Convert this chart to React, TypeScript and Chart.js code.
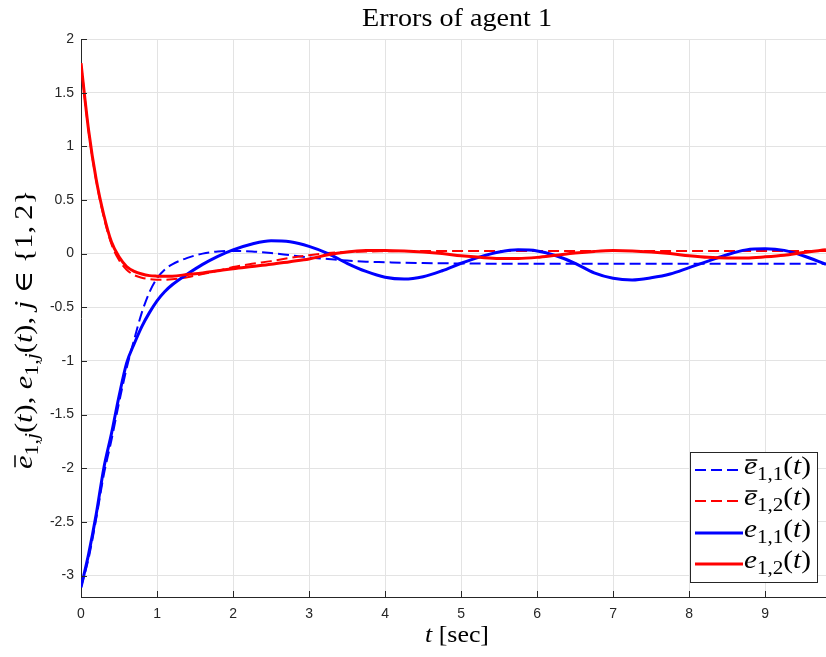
import React, { useEffect, useRef } from "react";
import { Chart, registerables } from "chart.js";
Chart.register(...registerables);

const times = [0, 0.1, 0.2, 0.3, 0.4, 0.5, 0.6, 0.7, 0.8, 0.9, 1.0, 1.1, 1.2, 1.4, 1.6, 1.8, 2.0, 2.25, 2.5, 2.75, 3.0, 3.25, 3.5, 3.75, 4.0, 4.25, 4.5, 4.75, 5.0, 5.25, 5.5, 5.75, 6.0, 6.25, 6.5, 6.75, 7.0, 7.25, 7.5, 7.75, 8.0, 8.25, 8.5, 8.75, 9.0, 9.25, 9.5, 9.8];

const eBar11 = [-3.11, -2.84, -2.47, -2.06, -1.74, -1.39, -1.07, -0.8, -0.55, -0.36, -0.23, -0.15, -0.1, -0.04, 0.0, 0.02, 0.025, 0.02, 0.005, -0.015, -0.035, -0.05, -0.065, -0.075, -0.08, -0.085, -0.088, -0.09, -0.092, -0.093, -0.094, -0.094, -0.095, -0.095, -0.095, -0.095, -0.095, -0.095, -0.095, -0.095, -0.095, -0.095, -0.095, -0.095, -0.095, -0.095, -0.095, -0.095];
const eBar12 = [1.775, 1.14, 0.68, 0.34, 0.09, -0.06, -0.15, -0.2, -0.225, -0.238, -0.243, -0.244, -0.24, -0.22, -0.19, -0.16, -0.125, -0.095, -0.07, -0.04, -0.015, 0.005, 0.015, 0.02, 0.022, 0.024, 0.025, 0.025, 0.025, 0.025, 0.025, 0.025, 0.025, 0.025, 0.025, 0.025, 0.025, 0.025, 0.025, 0.025, 0.025, 0.025, 0.025, 0.025, 0.025, 0.025, 0.025, 0.025];
const e11 = [-3.11, -2.8, -2.43, -2.0, -1.68, -1.33, -1.02, -0.84, -0.68, -0.55, -0.44, -0.355, -0.29, -0.19, -0.1, -0.025, 0.035, 0.09, 0.12, 0.11, 0.067, 0.0, -0.09, -0.166, -0.22, -0.237, -0.215, -0.16, -0.09, -0.03, 0.015, 0.035, 0.025, -0.02, -0.09, -0.18, -0.23, -0.245, -0.225, -0.19, -0.13, -0.07, -0.01, 0.035, 0.045, 0.03, -0.02, -0.1];
const e12 = [1.775, 1.15, 0.69, 0.36, 0.11, -0.03, -0.12, -0.165, -0.19, -0.205, -0.21, -0.212, -0.21, -0.195, -0.18, -0.16, -0.14, -0.12, -0.1, -0.075, -0.05, -0.01, 0.015, 0.028, 0.03, 0.025, 0.015, 0.0, -0.02, -0.035, -0.045, -0.045, -0.035, -0.015, 0.005, 0.02, 0.028, 0.025, 0.015, 0.0, -0.02, -0.035, -0.04, -0.04, -0.03, -0.015, 0.01, 0.035];

const xTicks = [0, 1, 2, 3, 4, 5, 6, 7, 8, 9];
const yTicks = [2, 1.5, 1, 0.5, 0, -0.5, -1, -1.5, -2, -2.5, -3];
const titleText = "Errors of agent 1";
const xLabelVar = "t";
const xLabelUnit = " [sec]";
const legendSubs = ["1,1", "1,2", "1,1", "1,2"];

const SERIF = '"Liberation Serif", "DejaVu Serif", serif';
const SANS = '"Liberation Sans", Arial, sans-serif';
const AXIS = "#262626";

type Run = { text: string; italic?: boolean; sub?: boolean; bar?: boolean };

function runFont(r: Run, size: number) {
  const s = r.sub ? Math.round(size * 0.7) : size;
  return `${r.italic ? "italic " : ""}${s}px ${SERIF}`;
}
function measureRuns(ctx: CanvasRenderingContext2D, runs: Run[], size: number) {
  let w = 0;
  for (const r of runs) {
    ctx.font = runFont(r, size);
    w += ctx.measureText(r.text).width;
  }
  return w;
}
// draws runs starting at x (left), horizontally stretched to targetWidth
function drawRuns(ctx: CanvasRenderingContext2D, runs: Run[], x: number, y: number, size: number, targetWidth: number, barRise: number) {
  const natural = measureRuns(ctx, runs, size);
  const sx = targetWidth / natural;
  ctx.save();
  ctx.translate(x, y);
  ctx.scale(sx, 1);
  ctx.textAlign = "left";
  ctx.textBaseline = "alphabetic";
  let cx = 0;
  for (const r of runs) {
    ctx.font = runFont(r, size);
    const w = ctx.measureText(r.text).width;
    const dy = r.sub ? size * 0.22 : 0;
    ctx.fillText(r.text, cx, dy);
    if (r.bar) {
      ctx.save();
      ctx.lineWidth = Math.max(1.2, size * 0.06);
      ctx.beginPath();
      ctx.moveTo(cx + size * 0.06, -barRise);
      ctx.lineTo(cx + w + size * 0.01, -barRise);
      ctx.stroke();
      ctx.restore();
    }
    cx += w;
  }
  ctx.restore();
}
function mathLabel(bar: boolean, sub: string): Run[] {
  const [a, b] = sub.split(",");
  return [
    { text: "e", italic: true, bar },
    { text: a + ",", sub: true },
    { text: b, sub: true, italic: b === "j" },
    { text: "(" },
    { text: "t", italic: true },
    { text: ")" },
  ];
}

const decorPlugin = {
  id: "decor",
  afterDraw(chart: any) {
    const ctx: CanvasRenderingContext2D = chart.ctx;
    const area = chart.chartArea;
    const xs = chart.scales.x;
    const ys = chart.scales.y;
    ctx.save();
    // inward ticks
    ctx.strokeStyle = AXIS;
    ctx.lineWidth = 1;
    for (const v of xTicks) {
      const px = Math.round(xs.getPixelForValue(v)) + 0.5;
      ctx.beginPath();
      ctx.moveTo(px, area.bottom);
      ctx.lineTo(px, area.bottom - 6);
      ctx.stroke();
    }
    for (const v of yTicks) {
      const py = Math.round(ys.getPixelForValue(v)) + 0.5;
      ctx.beginPath();
      ctx.moveTo(area.left, py);
      ctx.lineTo(area.left + 6, py);
      ctx.stroke();
    }
    ctx.fillStyle = "#000";
    ctx.strokeStyle = "#000";
    // title
    drawRuns(ctx, [{ text: titleText }], 457 - 95, 26, 25, 190, 0);
    // x label
    drawRuns(ctx, [{ text: xLabelVar, italic: true }, { text: xLabelUnit }], 457 - 32, 642, 24, 64, 0);
    // y label
    const yr: Run[] = [
      ...mathLabel(true, "1,j"),
      { text: ", " },
      ...mathLabel(false, "1,j"),
      { text: ", " },
      { text: "j", italic: true },
      { text: " ∈ {1,\u20092}" },
    ];
    ctx.save();
    ctx.translate(32, 330);
    ctx.rotate(-Math.PI / 2);
    drawRuns(ctx, yr, -139, 0, 25, 279, 17);
    ctx.restore();
    // legend
    const bx = 690.5, by = 452.5, bw = 127, bh = 130;
    ctx.fillStyle = "#fff";
    ctx.fillRect(bx, by, bw, bh);
    ctx.strokeStyle = AXIS;
    ctx.lineWidth = 1;
    ctx.strokeRect(bx, by, bw, bh);
    const rows = [470, 501, 533, 564];
    chart.data.datasets.forEach((ds: any, i: number) => {
      ctx.save();
      ctx.strokeStyle = ds.borderColor;
      ctx.lineWidth = ds.borderWidth;
      ctx.setLineDash(ds.borderDash || []);
      ctx.beginPath();
      ctx.moveTo(695, rows[i]);
      ctx.lineTo(743, rows[i]);
      ctx.stroke();
      ctx.restore();
      ctx.fillStyle = "#000";
      ctx.strokeStyle = "#000";
      drawRuns(ctx, mathLabel(i < 2, legendSubs[i]), 744, rows[i] + 4, 25, 67, 14);
    });
    ctx.restore();
  },
};

export default function App() {
  const ref = useRef<HTMLCanvasElement>(null);
  useEffect(() => {
    document.body.style.margin = "0";
    const pts = (ys: number[]) => times.map((t, i) => ({ x: t, y: ys[i] }));
    const common = { pointRadius: 0, cubicInterpolationMode: "monotone" as const, fill: false };
    const chart = new Chart(ref.current!, {
      type: "line",
      data: {
        datasets: [
          { label: "ē1,1(t)", data: pts(eBar11), borderColor: "#0000ff", borderWidth: 2, borderDash: [11, 5], order: 4, ...common },
          { label: "ē1,2(t)", data: pts(eBar12), borderColor: "#ff0000", borderWidth: 2, borderDash: [11, 5], order: 3, ...common },
          { label: "e1,1(t)", data: pts(e11), borderColor: "#0000ff", borderWidth: 3, order: 2, ...common },
          { label: "e1,2(t)", data: pts(e12), borderColor: "#ff0000", borderWidth: 3, order: 1, ...common },
        ],
      },
      options: {
        animation: false,
        responsive: false,
        layout: { padding: { top: 39, right: 0, left: 0, bottom: 0 } },
        plugins: { legend: { display: false }, title: { display: false }, tooltip: { enabled: false } },
        scales: {
          x: {
            type: "linear",
            min: 0,
            max: 9.8,
            afterBuildTicks: (s: any) => { s.ticks = xTicks.map((v) => ({ value: v })); },
            afterFit: (s: any) => { s.height = 60; },
            grid: { color: "#e3e3e3", drawTicks: false },
            border: { color: AXIS, width: 1 },
            ticks: { color: AXIS, font: { family: SANS, size: 14 }, padding: 9, maxRotation: 0, callback: (v: any) => String(v) },
          },
          y: {
            type: "linear",
            min: -3.2,
            max: 2,
            afterBuildTicks: (s: any) => { s.ticks = yTicks.map((v) => ({ value: v })); },
            afterFit: (s: any) => { s.width = 81; },
            grid: { color: "#e3e3e3", drawTicks: false },
            border: { color: AXIS, width: 1 },
            ticks: { color: AXIS, font: { family: SANS, size: 14 }, padding: 7, callback: (v: any) => String(v) },
          },
        },
      },
      plugins: [decorPlugin],
    });
    return () => chart.destroy();
  }, []);
  return (
    <div style={{ position: "fixed", left: 0, top: 0, width: 826, height: 657, background: "#fff" }}>
      <canvas ref={ref} width={826} height={657} style={{ width: 826, height: 657 }} />
    </div>
  );
}
